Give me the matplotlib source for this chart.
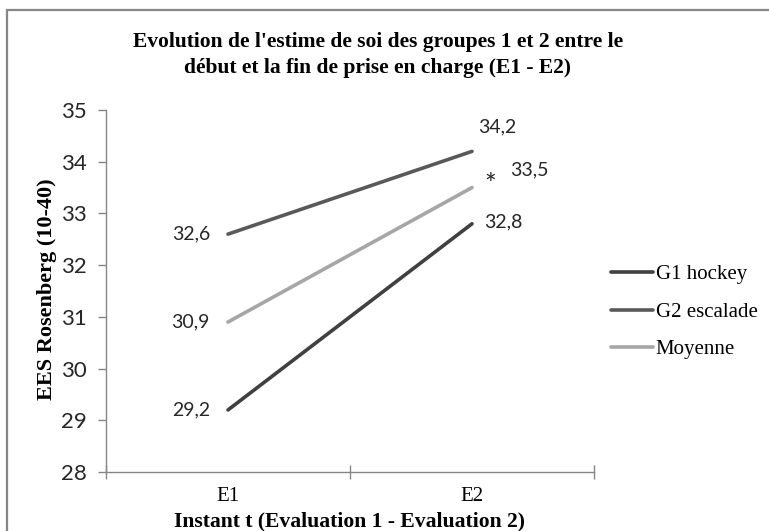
import matplotlib
matplotlib.use("Agg")
import matplotlib.pyplot as plt
from matplotlib.patches import Rectangle

# data
instants = ["E1", "E2"]
g1_hockey = [29.2, 32.8]
g2_escalade = [32.6, 34.2]
moyenne = [30.9, 33.5]
labels_g1 = ["29,2", "32,8"]
labels_g2 = ["32,6", "34,2"]
labels_moy = ["30,9", "33,5"]

serif = ["Liberation Serif", "DejaVu Serif"]
sans = ["Lato", "DejaVu Sans"]

fig = plt.figure(figsize=(7.69, 5.31), dpi=100)
ax = fig.add_axes([106/769, 1-472/531, (594-106)/769, (472-110)/531])

x = [0, 1]
ax.plot(x, g1_hockey, color="#404040", lw=2.6, label="G1 hockey", solid_capstyle="round")
ax.plot(x, g2_escalade, color="#595959", lw=2.6, label="G2 escalade", solid_capstyle="round")
ax.plot(x, moyenne, color="#a6a6a6", lw=2.6, label="Moyenne", solid_capstyle="round")

ax.set_xlim(-0.5, 1.5)
ax.set_ylim(28, 35)
ax.set_yticks(range(28, 36))
ax.set_yticklabels([str(v) for v in range(28, 36)], fontfamily=sans, fontsize=16, color="#262626")
ax.set_xticks([-0.5, 0.5, 1.5])
ax.set_xticklabels([])
ax.set_xticks(x, minor=True)
ax.set_xticklabels(instants, minor=True, fontfamily=serif, fontsize=15)
ax.tick_params(axis="x", which="major", direction="inout", length=10, color="#868686", width=1)
ax.tick_params(axis="x", which="minor", length=0, pad=11)
ax.tick_params(axis="y", direction="out", length=6, color="#868686", width=1, pad=8)

for s in ["top", "right"]:
    ax.spines[s].set_visible(False)
for s in ["left", "bottom"]:
    ax.spines[s].set_color("#868686")
    ax.spines[s].set_linewidth(1)

# data labels
lab_kw = dict(textcoords="offset pixels", fontfamily=sans, fontsize=14, color="#262626", va="center")
ax.annotate(labels_g2[0], (0, g2_escalade[0]), xytext=(-18, 0), ha="right", **lab_kw)
ax.annotate(labels_moy[0], (0, moyenne[0]), xytext=(-18, 0), ha="right", **lab_kw)
ax.annotate(labels_g1[0], (0, g1_hockey[0]), xytext=(-18, 0), ha="right", **lab_kw)
ax.annotate(labels_g2[1], (1, g2_escalade[1]), xytext=(25, 24), ha="center", **lab_kw)
ax.annotate(labels_moy[1], (1, moyenne[1]), xytext=(57, 18), ha="center", **lab_kw)
ax.annotate(labels_g1[1], (1, g1_hockey[1]), xytext=(12, 2), ha="left", **lab_kw)
ax.annotate("*", (1, moyenne[1]), xytext=(18, 2), ha="center", textcoords="offset pixels",
            fontfamily=sans, fontsize=20, color="#262626", va="center")

fig.text(47/769, 1-289/531, "EES Rosenberg (10-40)", rotation=90, ha="center", va="center",
         fontfamily=serif, fontweight="bold", fontsize=16)
fig.text(349/769, 1-521/531, "Instant t (Evaluation 1 - Evaluation 2)", ha="center", va="center",
         fontfamily=serif, fontweight="bold", fontsize=15.6)

fig.text(378/769, 1-55/531, "Evolution de l'estime de soi des groupes 1 et 2 entre le\ndébut et la fin de prise en charge (E1 - E2)",
         ha="center", va="center", fontfamily=serif, fontweight="bold", fontsize=15.5, linespacing=1.35)

leg = ax.legend(loc="center left", bbox_to_anchor=(601/769, 1-312/531), bbox_transform=fig.transFigure,
                frameon=False, prop={"family": serif, "size": 15}, handlelength=2.0,
                handletextpad=0.12, labelspacing=0.85, borderpad=0)

# outer chart border (only top and left visible)
fig.patches.append(Rectangle((7/769, -0.1), 1.2, 1.1 - 10/531, transform=fig.transFigure,
                             fill=False, edgecolor="#878787", lw=1.6))

fig.savefig("out.png", dpi=100)
